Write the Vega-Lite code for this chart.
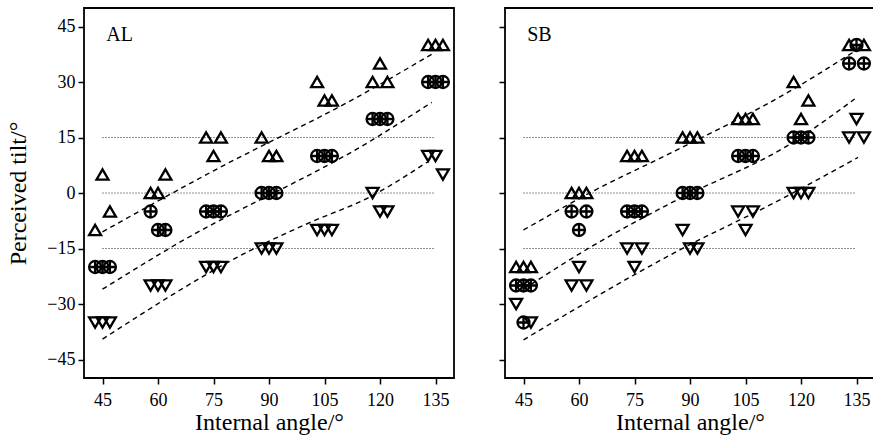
{
  "$schema": "https://vega.github.io/schema/vega-lite/v6.json",
  "padding": {"left": 5, "top": 7, "right": 0, "bottom": 0},
  "spacing": 42,
  "datasets": {
    "pts": [
      {"panel":"AL","sym":"up","angle":43,"tilt":-10},{"panel":"AL","sym":"up","angle":45,"tilt":5},{"panel":"AL","sym":"up","angle":47,"tilt":-5},
      {"panel":"AL","sym":"up","angle":58,"tilt":0},{"panel":"AL","sym":"up","angle":60,"tilt":0},{"panel":"AL","sym":"up","angle":62,"tilt":5},
      {"panel":"AL","sym":"up","angle":73,"tilt":15},{"panel":"AL","sym":"up","angle":75,"tilt":10},{"panel":"AL","sym":"up","angle":77,"tilt":15},
      {"panel":"AL","sym":"up","angle":88,"tilt":15},{"panel":"AL","sym":"up","angle":90,"tilt":10},{"panel":"AL","sym":"up","angle":92,"tilt":10},
      {"panel":"AL","sym":"up","angle":103,"tilt":30},{"panel":"AL","sym":"up","angle":105,"tilt":25},{"panel":"AL","sym":"up","angle":107,"tilt":25},
      {"panel":"AL","sym":"up","angle":118,"tilt":30},{"panel":"AL","sym":"up","angle":120,"tilt":35},{"panel":"AL","sym":"up","angle":122,"tilt":30},
      {"panel":"AL","sym":"up","angle":133,"tilt":40},{"panel":"AL","sym":"up","angle":135,"tilt":40},{"panel":"AL","sym":"up","angle":137,"tilt":40},
      {"panel":"AL","sym":"plus","angle":43,"tilt":-20},{"panel":"AL","sym":"plus","angle":45,"tilt":-20},{"panel":"AL","sym":"plus","angle":47,"tilt":-20},
      {"panel":"AL","sym":"plus","angle":58,"tilt":-5},{"panel":"AL","sym":"plus","angle":60,"tilt":-10},{"panel":"AL","sym":"plus","angle":62,"tilt":-10},
      {"panel":"AL","sym":"plus","angle":73,"tilt":-5},{"panel":"AL","sym":"plus","angle":75,"tilt":-5},{"panel":"AL","sym":"plus","angle":77,"tilt":-5},
      {"panel":"AL","sym":"plus","angle":88,"tilt":0},{"panel":"AL","sym":"plus","angle":90,"tilt":0},{"panel":"AL","sym":"plus","angle":92,"tilt":0},
      {"panel":"AL","sym":"plus","angle":103,"tilt":10},{"panel":"AL","sym":"plus","angle":105,"tilt":10},{"panel":"AL","sym":"plus","angle":107,"tilt":10},
      {"panel":"AL","sym":"plus","angle":118,"tilt":20},{"panel":"AL","sym":"plus","angle":120,"tilt":20},{"panel":"AL","sym":"plus","angle":122,"tilt":20},
      {"panel":"AL","sym":"plus","angle":133,"tilt":30},{"panel":"AL","sym":"plus","angle":135,"tilt":30},{"panel":"AL","sym":"plus","angle":137,"tilt":30},
      {"panel":"AL","sym":"down","angle":43,"tilt":-35},{"panel":"AL","sym":"down","angle":45,"tilt":-35},{"panel":"AL","sym":"down","angle":47,"tilt":-35},
      {"panel":"AL","sym":"down","angle":58,"tilt":-25},{"panel":"AL","sym":"down","angle":60,"tilt":-25},{"panel":"AL","sym":"down","angle":62,"tilt":-25},
      {"panel":"AL","sym":"down","angle":73,"tilt":-20},{"panel":"AL","sym":"down","angle":75,"tilt":-20},{"panel":"AL","sym":"down","angle":77,"tilt":-20},
      {"panel":"AL","sym":"down","angle":88,"tilt":-15},{"panel":"AL","sym":"down","angle":90,"tilt":-15},{"panel":"AL","sym":"down","angle":92,"tilt":-15},
      {"panel":"AL","sym":"down","angle":103,"tilt":-10},{"panel":"AL","sym":"down","angle":105,"tilt":-10},{"panel":"AL","sym":"down","angle":107,"tilt":-10},
      {"panel":"AL","sym":"down","angle":118,"tilt":0},{"panel":"AL","sym":"down","angle":120,"tilt":-5},{"panel":"AL","sym":"down","angle":122,"tilt":-5},
      {"panel":"AL","sym":"down","angle":133,"tilt":10},{"panel":"AL","sym":"down","angle":135,"tilt":10},{"panel":"AL","sym":"down","angle":137,"tilt":5},
      {"panel":"SB","sym":"up","angle":43,"tilt":-20},{"panel":"SB","sym":"up","angle":45,"tilt":-20},{"panel":"SB","sym":"up","angle":47,"tilt":-20},
      {"panel":"SB","sym":"up","angle":58,"tilt":0},{"panel":"SB","sym":"up","angle":60,"tilt":0},{"panel":"SB","sym":"up","angle":62,"tilt":0},
      {"panel":"SB","sym":"up","angle":73,"tilt":10},{"panel":"SB","sym":"up","angle":75,"tilt":10},{"panel":"SB","sym":"up","angle":77,"tilt":10},
      {"panel":"SB","sym":"up","angle":88,"tilt":15},{"panel":"SB","sym":"up","angle":90,"tilt":15},{"panel":"SB","sym":"up","angle":92,"tilt":15},
      {"panel":"SB","sym":"up","angle":103,"tilt":20},{"panel":"SB","sym":"up","angle":105,"tilt":20},{"panel":"SB","sym":"up","angle":107,"tilt":20},
      {"panel":"SB","sym":"up","angle":118,"tilt":30},{"panel":"SB","sym":"up","angle":120,"tilt":20},{"panel":"SB","sym":"up","angle":122,"tilt":25},
      {"panel":"SB","sym":"up","angle":133,"tilt":40},{"panel":"SB","sym":"up","angle":137,"tilt":40},
      {"panel":"SB","sym":"plus","angle":43,"tilt":-25},{"panel":"SB","sym":"plus","angle":45,"tilt":-25},{"panel":"SB","sym":"plus","angle":47,"tilt":-25},
      {"panel":"SB","sym":"plus","angle":45,"tilt":-35},
      {"panel":"SB","sym":"plus","angle":58,"tilt":-5},{"panel":"SB","sym":"plus","angle":60,"tilt":-10},{"panel":"SB","sym":"plus","angle":62,"tilt":-5},
      {"panel":"SB","sym":"plus","angle":73,"tilt":-5},{"panel":"SB","sym":"plus","angle":75,"tilt":-5},{"panel":"SB","sym":"plus","angle":77,"tilt":-5},
      {"panel":"SB","sym":"plus","angle":88,"tilt":0},{"panel":"SB","sym":"plus","angle":90,"tilt":0},{"panel":"SB","sym":"plus","angle":92,"tilt":0},
      {"panel":"SB","sym":"plus","angle":103,"tilt":10},{"panel":"SB","sym":"plus","angle":105,"tilt":10},{"panel":"SB","sym":"plus","angle":107,"tilt":10},
      {"panel":"SB","sym":"plus","angle":118,"tilt":15},{"panel":"SB","sym":"plus","angle":120,"tilt":15},{"panel":"SB","sym":"plus","angle":122,"tilt":15},
      {"panel":"SB","sym":"plus","angle":133,"tilt":35},{"panel":"SB","sym":"plus","angle":135,"tilt":40},{"panel":"SB","sym":"plus","angle":137,"tilt":35},
      {"panel":"SB","sym":"down","angle":43,"tilt":-30},{"panel":"SB","sym":"down","angle":47,"tilt":-35},
      {"panel":"SB","sym":"down","angle":58,"tilt":-25},{"panel":"SB","sym":"down","angle":60,"tilt":-20},{"panel":"SB","sym":"down","angle":62,"tilt":-25},
      {"panel":"SB","sym":"down","angle":73,"tilt":-15},{"panel":"SB","sym":"down","angle":75,"tilt":-20},{"panel":"SB","sym":"down","angle":77,"tilt":-15},
      {"panel":"SB","sym":"down","angle":88,"tilt":-10},{"panel":"SB","sym":"down","angle":90,"tilt":-15},{"panel":"SB","sym":"down","angle":92,"tilt":-15},
      {"panel":"SB","sym":"down","angle":103,"tilt":-5},{"panel":"SB","sym":"down","angle":105,"tilt":-10},{"panel":"SB","sym":"down","angle":107,"tilt":-5},
      {"panel":"SB","sym":"down","angle":118,"tilt":0},{"panel":"SB","sym":"down","angle":120,"tilt":0},{"panel":"SB","sym":"down","angle":122,"tilt":0},
      {"panel":"SB","sym":"down","angle":133,"tilt":15},{"panel":"SB","sym":"down","angle":135,"tilt":20},{"panel":"SB","sym":"down","angle":137,"tilt":15}
    ],
    "fits": [
      {"panel":"AL","line":"a","angle":45,"tilt":-10.5},{"panel":"AL","line":"a","angle":75,"tilt":6},{"panel":"AL","line":"a","angle":114,"tilt":26},{"panel":"AL","line":"a","angle":134,"tilt":37.5},
      {"panel":"AL","line":"b","angle":45,"tilt":-26},{"panel":"AL","line":"b","angle":63,"tilt":-15},{"panel":"AL","line":"b","angle":119,"tilt":15},{"panel":"AL","line":"b","angle":134,"tilt":24.5},
      {"panel":"AL","line":"c","angle":45,"tilt":-39.5},{"panel":"AL","line":"c","angle":86,"tilt":-15},{"panel":"AL","line":"c","angle":101,"tilt":-8},{"panel":"AL","line":"c","angle":117,"tilt":-1.2},{"panel":"AL","line":"c","angle":133,"tilt":8.5},
      {"panel":"SB","line":"a","angle":45,"tilt":-10},{"panel":"SB","line":"a","angle":64,"tilt":0.6},{"panel":"SB","line":"a","angle":86,"tilt":11.4},{"panel":"SB","line":"a","angle":118,"tilt":28.1},{"panel":"SB","line":"a","angle":134,"tilt":38},
      {"panel":"SB","line":"b","angle":45,"tilt":-26},{"panel":"SB","line":"b","angle":63,"tilt":-14.7},{"panel":"SB","line":"b","angle":86,"tilt":-2.1},{"panel":"SB","line":"b","angle":117,"tilt":13.2},{"panel":"SB","line":"b","angle":134.5,"tilt":25.4},
      {"panel":"SB","line":"c","angle":45,"tilt":-39.7},{"panel":"SB","line":"c","angle":87,"tilt":-15.5},{"panel":"SB","line":"c","angle":114,"tilt":-2},{"panel":"SB","line":"c","angle":135.4,"tilt":9.6}
    ],
    "refs": [{"level":15},{"level":0},{"level":-15}]
  },
  "config": {
    "view": {"stroke": "black", "strokeWidth": 1.8},
    "axis": {
      "labelFont": "Liberation Serif", "labelFontSize": 18, "labelColor": "black",
      "titleFont": "Liberation Serif", "titleFontSize": 24, "titleFontWeight": "normal", "titleColor": "black",
      "tickColor": "black", "tickWidth": 1.5, "tickSize": 6, "domain": false, "grid": false
    },
    "axisX": {"labelPadding": 7, "titlePadding": 1},
    "axisY": {"labelPadding": 3, "titlePadding": 16}
  },
  "hconcat": [
    {
      "width": 370, "height": 370,
      "layer": [
        {
          "data": {"name": "refs"},
          "mark": {"type": "rule", "color": "#222", "strokeWidth": 1, "strokeDash": [1, 2]},
          "encoding": {
            "x": {"datum": 45, "type": "quantitative", "scale": {"domain": [40, 140], "nice": false}, "axis": {"values": [45,60,75,90,105,120,135], "title": "Internal angle/°", "labelFont": "Liberation Serif", "titleFont": "Liberation Serif"}},
            "x2": {"datum": 135},
            "y": {"field": "level", "type": "quantitative", "scale": {"domain": [-50, 50], "nice": false}, "axis": {"values": [-45,-30,-15,0,15,30,45], "title": "Perceived tilt/°", "labelFont": "Liberation Serif", "titleFont": "Liberation Serif"}}
          }
        },
        {
          "data": {"name": "fits"},
          "transform": [{"filter": "datum.panel === 'AL'"}],
          "mark": {"type": "line", "color": "black", "strokeWidth": 1.4, "strokeDash": [5, 4], "interpolate": "monotone"},
          "encoding": {
            "x": {"field": "angle", "type": "quantitative"},
            "y": {"field": "tilt", "type": "quantitative"},
            "detail": {"field": "line"}
          }
        },
        {
          "data": {"name": "pts"},
          "transform": [{"filter": "datum.panel === 'AL'"}],
          "mark": {"type": "point", "filled": false, "stroke": "black", "strokeWidth": 2.3, "size": 144, "opacity": 1},
          "encoding": {
            "x": {"field": "angle", "type": "quantitative"},
            "y": {"field": "tilt", "type": "quantitative"},
            "shape": {"field": "sym", "type": "nominal", "legend": null, "scale": {"domain": ["up","plus","down"], "range": ["triangle-up", "M-1,0A1,1 0 1,1 1,0A1,1 0 1,1 -1,0ZM-1,0L1,0M0,-1L0,1", "triangle-down"]}}
          }
        },
        {
          "data": {"values": [{"name": "AL"}]},
          "mark": {"type": "text", "font": "Liberation Serif", "fontSize": 20, "align": "left", "baseline": "alphabetic", "color": "black"},
          "encoding": {"x": {"datum": 46}, "y": {"datum": 41}, "text": {"field": "name"}}
        }
      ]
    },
    {
      "width": 370, "height": 370,
      "layer": [
        {
          "data": {"name": "refs"},
          "mark": {"type": "rule", "color": "#222", "strokeWidth": 1, "strokeDash": [1, 2]},
          "encoding": {
            "x": {"datum": 45, "type": "quantitative", "scale": {"domain": [40, 140], "nice": false}, "axis": {"values": [45,60,75,90,105,120,135], "title": "Internal angle/°", "labelFont": "Liberation Serif", "titleFont": "Liberation Serif"}},
            "x2": {"datum": 135},
            "y": {"field": "level", "type": "quantitative", "scale": {"domain": [-50, 50], "nice": false}, "axis": {"values": [-45,-30,-15,0,15,30,45], "labels": false, "title": null}}
          }
        },
        {
          "data": {"name": "fits"},
          "transform": [{"filter": "datum.panel === 'SB'"}],
          "mark": {"type": "line", "color": "black", "strokeWidth": 1.4, "strokeDash": [5, 4], "interpolate": "monotone"},
          "encoding": {
            "x": {"field": "angle", "type": "quantitative"},
            "y": {"field": "tilt", "type": "quantitative"},
            "detail": {"field": "line"}
          }
        },
        {
          "data": {"name": "pts"},
          "transform": [{"filter": "datum.panel === 'SB'"}],
          "mark": {"type": "point", "filled": false, "stroke": "black", "strokeWidth": 2.3, "size": 144, "opacity": 1},
          "encoding": {
            "x": {"field": "angle", "type": "quantitative"},
            "y": {"field": "tilt", "type": "quantitative"},
            "shape": {"field": "sym", "type": "nominal", "legend": null, "scale": {"domain": ["up","plus","down"], "range": ["triangle-up", "M-1,0A1,1 0 1,1 1,0A1,1 0 1,1 -1,0ZM-1,0L1,0M0,-1L0,1", "triangle-down"]}}
          }
        },
        {
          "data": {"values": [{"name": "SB"}]},
          "mark": {"type": "text", "font": "Liberation Serif", "fontSize": 20, "align": "left", "baseline": "alphabetic", "color": "black"},
          "encoding": {"x": {"datum": 46}, "y": {"datum": 41}, "text": {"field": "name"}}
        }
      ]
    }
  ]
}
